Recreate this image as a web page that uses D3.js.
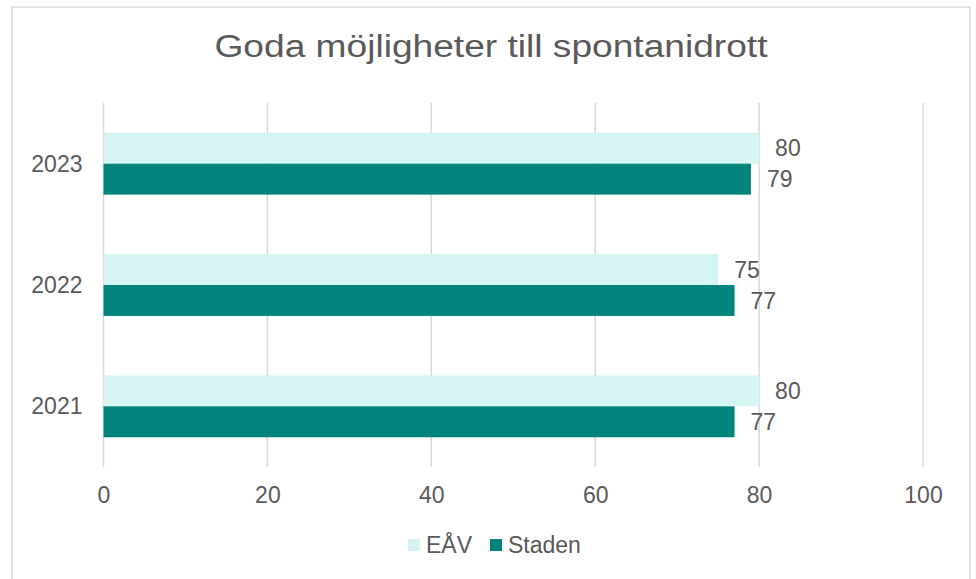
<!DOCTYPE html>
<html>
<head>
<meta charset="utf-8">
<script src="https://cdn.jsdelivr.net/npm/d3@7"></script>
<style>
  body { margin: 0; background: #fff; }
  text { font-family: "Liberation Sans", Arial, sans-serif; fill: #595959; }
</style>
</head>
<body>
<div class="chart"></div>
<script>
const years = ['2023', '2022', '2021'];
const seriesNames = ['EÅV', 'Staden'];
const eavValues = [80, 75, 80];
const stadenValues = [79, 77, 77];
const xTicks = [0, 20, 40, 60, 80, 100];

const colors = d3.scaleOrdinal()
  .domain(seriesNames)
  .range(['#d5f5f2', '#00847b']);

const width = 976;
const height = 579;
const plot = { left: 103.5, right: 923, top: 103, bottom: 467 };

const svg = d3.select('.chart').append('svg')
  .attr('width', width)
  .attr('height', height);

// outer chart border
svg.append('rect')
  .attr('x', 12).attr('y', 7)
  .attr('width', 958).attr('height', 590)
  .attr('fill', 'none')
  .attr('stroke', '#d9d9d9')
  .attr('stroke-width', 1.5);

svg.append('text')
  .attr('x', 491).attr('y', 57)
  .attr('text-anchor', 'middle')
  .attr('textLength', 553)
  .attr('lengthAdjust', 'spacingAndGlyphs')
  .style('font-size', '31px')
  .text('Goda möjligheter till spontanidrott');

const x = d3.scaleLinear()
  .domain([0, 100])
  .range([plot.left, plot.right]);

const y = d3.scaleBand()
  .domain(years)
  .range([plot.top, plot.bottom])
  .paddingInner(0.49)
  .paddingOuter(0.245);

const inner = d3.scaleBand()
  .domain(seriesNames)
  .range([0, y.bandwidth()]);

// gridlines
svg.append('g')
  .selectAll('line')
  .data(xTicks)
  .enter()
  .append('line')
  .attr('x1', d => x(d)).attr('x2', d => x(d))
  .attr('y1', plot.top).attr('y2', plot.bottom)
  .attr('stroke', '#d9d9d9')
  .attr('stroke-width', 1.5);

const xAxis = svg.append('g')
  .attr('transform', `translate(0,${plot.bottom})`)
  .call(d3.axisBottom(x).tickValues(xTicks).tickSize(0).tickPadding(20));
xAxis.select('.domain').remove();
xAxis.selectAll('text')
  .attr('fill', '#595959')
  .style('font-size', '23px')
  .style('font-family', '"Liberation Sans", Arial, sans-serif');

const yAxis = svg.append('g')
  .attr('transform', `translate(${plot.left},0)`)
  .call(d3.axisLeft(y).tickSize(0).tickPadding(21));
yAxis.select('.domain').remove();
yAxis.selectAll('text')
  .attr('fill', '#595959')
  .attr('dy', '0.35em')
  .style('font-size', '23px')
  .style('font-family', '"Liberation Sans", Arial, sans-serif');

const rows = years.map((yr, i) => ({
  year: yr,
  values: [
    { series: 'EÅV', value: eavValues[i] },
    { series: 'Staden', value: stadenValues[i] }
  ]
}));

const groups = svg.append('g')
  .selectAll('g')
  .data(rows)
  .enter()
  .append('g')
  .attr('transform', d => `translate(0,${y(d.year)})`);

groups.selectAll('rect')
  .data(d => d.values)
  .enter()
  .append('rect')
  .attr('x', x(0))
  .attr('y', d => inner(d.series))
  .attr('width', d => x(d.value) - x(0))
  .attr('height', inner.bandwidth())
  .attr('fill', d => colors(d.series));

groups.selectAll('text')
  .data(d => d.values)
  .enter()
  .append('text')
  .attr('x', d => x(d.value) + 16)
  .attr('y', d => inner(d.series) + inner.bandwidth() / 2)
  .attr('dy', '0.35em')
  .style('font-size', '23px')
  .text(d => d.value);

// legend
const legendX = [408, 490];
const legend = svg.append('g')
  .selectAll('g')
  .data(seriesNames)
  .enter()
  .append('g')
  .attr('transform', (d, i) => `translate(${legendX[i]},545)`);

legend.append('rect')
  .attr('x', 0).attr('y', -6)
  .attr('width', 12).attr('height', 12)
  .attr('fill', d => colors(d));

legend.append('text')
  .attr('x', 18)
  .attr('dy', '0.35em')
  .style('font-size', '23px')
  .text(d => d);
</script>
</body>
</html>
